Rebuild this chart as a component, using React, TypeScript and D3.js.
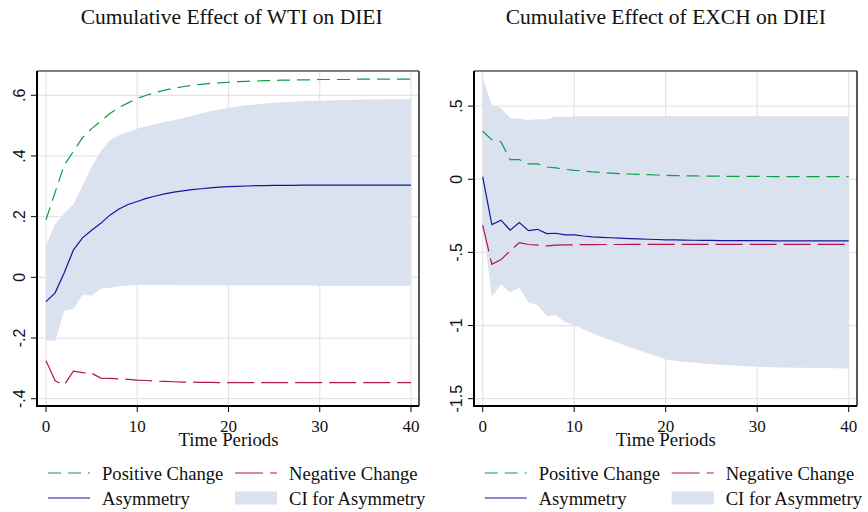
import React from "react";
import * as d3 from "d3";

// ---------- Data ----------
const periods = d3.range(0, 41);

const wtiPositive = [0.19, 0.28, 0.37, 0.415, 0.46, 0.49, 0.515, 0.54, 0.56, 0.575, 0.59, 0.6, 0.609, 0.617, 0.623, 0.628, 0.633, 0.636, 0.639, 0.641, 0.643, 0.645, 0.646, 0.647, 0.648, 0.649, 0.65, 0.65, 0.651, 0.651, 0.652, 0.652, 0.652, 0.652, 0.653, 0.653, 0.653, 0.653, 0.653, 0.653, 0.653];
const wtiNegative = [-0.275, -0.341, -0.355, -0.309, -0.314, -0.316, -0.332, -0.333, -0.335, -0.336, -0.339, -0.34, -0.342, -0.343, -0.344, -0.345, -0.345, -0.346, -0.346, -0.347, -0.347, -0.347, -0.347, -0.347, -0.347, -0.347, -0.347, -0.347, -0.347, -0.347, -0.347, -0.347, -0.347, -0.347, -0.347, -0.347, -0.347, -0.347, -0.347, -0.347, -0.347];
const wtiAsymmetry = [-0.08, -0.051, 0.015, 0.09, 0.13, 0.155, 0.178, 0.205, 0.225, 0.24, 0.25, 0.26, 0.268, 0.275, 0.281, 0.285, 0.289, 0.292, 0.295, 0.297, 0.299, 0.3, 0.301, 0.302, 0.302, 0.303, 0.303, 0.303, 0.304, 0.304, 0.304, 0.304, 0.304, 0.304, 0.304, 0.304, 0.304, 0.304, 0.304, 0.304, 0.304];
const wtiCiUpper = [0.106, 0.175, 0.21, 0.241, 0.3, 0.365, 0.415, 0.452, 0.468, 0.48, 0.49, 0.498, 0.505, 0.512, 0.518, 0.525, 0.532, 0.54, 0.547, 0.553, 0.558, 0.563, 0.567, 0.57, 0.573, 0.575, 0.577, 0.579, 0.58, 0.581, 0.582, 0.583, 0.584, 0.585, 0.585, 0.586, 0.586, 0.587, 0.587, 0.587, 0.587];
const wtiCiLower = [-0.209, -0.209, -0.111, -0.104, -0.058, -0.06, -0.037, -0.034, -0.029, -0.027, -0.025, -0.025, -0.025, -0.025, -0.025, -0.026, -0.026, -0.026, -0.026, -0.026, -0.027, -0.027, -0.027, -0.027, -0.027, -0.027, -0.027, -0.027, -0.027, -0.027, -0.028, -0.028, -0.028, -0.028, -0.028, -0.028, -0.028, -0.028, -0.028, -0.028, -0.028];

const exchPositive = [0.328, 0.271, 0.255, 0.134, 0.134, 0.105, 0.105, 0.084, 0.078, 0.068, 0.061, 0.056, 0.05, 0.046, 0.042, 0.039, 0.036, 0.033, 0.031, 0.029, 0.026, 0.025, 0.024, 0.023, 0.022, 0.021, 0.021, 0.02, 0.02, 0.019, 0.019, 0.019, 0.018, 0.018, 0.018, 0.018, 0.018, 0.018, 0.018, 0.018, 0.018];
const exchNegative = [-0.314, -0.581, -0.549, -0.49, -0.433, -0.446, -0.45, -0.455, -0.45, -0.449, -0.448, -0.447, -0.447, -0.446, -0.446, -0.446, -0.445, -0.445, -0.445, -0.445, -0.445, -0.445, -0.445, -0.445, -0.445, -0.445, -0.445, -0.445, -0.445, -0.445, -0.445, -0.445, -0.445, -0.445, -0.445, -0.445, -0.445, -0.445, -0.445, -0.445, -0.445];
const exchAsymmetry = [0.016, -0.31, -0.28, -0.348, -0.296, -0.351, -0.342, -0.371, -0.369, -0.38, -0.38, -0.388, -0.394, -0.397, -0.4, -0.403, -0.406, -0.408, -0.41, -0.412, -0.414, -0.415, -0.416, -0.417, -0.418, -0.418, -0.419, -0.419, -0.42, -0.42, -0.42, -0.42, -0.421, -0.421, -0.421, -0.421, -0.421, -0.421, -0.421, -0.421, -0.421];
const exchCiUpper = [0.688, 0.51, 0.487, 0.419, 0.414, 0.405, 0.41, 0.41, 0.428, 0.423, 0.43, 0.43, 0.43, 0.43, 0.43, 0.43, 0.43, 0.43, 0.43, 0.43, 0.43, 0.43, 0.43, 0.43, 0.43, 0.43, 0.43, 0.43, 0.43, 0.43, 0.43, 0.43, 0.43, 0.43, 0.43, 0.43, 0.43, 0.43, 0.43, 0.43, 0.43];
const exchCiLower = [-0.3, -0.804, -0.717, -0.774, -0.742, -0.842, -0.861, -0.934, -0.929, -0.975, -0.997, -1.026, -1.054, -1.078, -1.1, -1.123, -1.146, -1.168, -1.19, -1.21, -1.232, -1.24, -1.247, -1.253, -1.259, -1.263, -1.268, -1.272, -1.276, -1.279, -1.282, -1.284, -1.286, -1.287, -1.288, -1.289, -1.29, -1.291, -1.292, -1.292, -1.293];

const xTicks = [0, 10, 20, 30, 40];
const wtiYTicks = [-0.4, -0.2, 0, 0.2, 0.4, 0.6];
const exchYTicks = [-1.5, -1, -0.5, 0, 0.5];

const legendLabels = ["Positive Change", "Negative Change", "Asymmetry", "CI for Asymmetry"];
const xAxisTitle = "Time Periods";

// ---------- Styles ----------
const GREEN = "#0c9e45";
const RED = "#b3154d";
const BLUE = "#1414a0";
const BAND = "#d9e2ee";
const GRID = "#e4e4e4";
const SERIF = "'Liberation Serif', 'Times New Roman', serif";
const SANS = "'Liberation Sans', Arial, sans-serif";

const fmt = (v: number) => {
  if (v === 0) return "0";
  const s = String(Math.round(v * 100) / 100);
  return s.replace(/^0\./, ".").replace(/^-0\./, "-.");
};

type PanelProps = {
  title: string;
  titleX: number;
  frame: { left: number; right: number; top: number; bottom: number };
  xRange: [number, number];
  yDomain: [number, number];
  yTicks: number[];
  pos: number[];
  neg: number[];
  asym: number[];
  lo: number[];
  hi: number[];
};

function Panel(p: PanelProps) {
  const { frame } = p;
  const x = d3.scaleLinear().domain([0, 40]).range(p.xRange);
  const y = d3.scaleLinear().domain(p.yDomain).range([frame.bottom, frame.top]);
  const line = (vals: number[]) =>
    d3.line<number>().x((_, i) => x(periods[i])).y((d) => y(d))(vals) || "";
  const area =
    d3
      .area<number>()
      .x((i) => x(periods[i]))
      .y0((i) => y(p.lo[i]))
      .y1((i) => y(p.hi[i]))(periods.map((_, i) => i)) || "";

  const lx = p.xRange[0] + 2;
  const row1 = 473;
  const row2 = 498;

  return (
    <g>
      <text x={p.titleX} y={24} textAnchor="middle" fontFamily={SERIF} fontSize={21.5} fill="#111">
        {p.title}
      </text>
      {/* grid */}
      {p.yTicks.map((t) => (
        <line key={"gy" + t} x1={frame.left} x2={frame.right} y1={y(t)} y2={y(t)} stroke={GRID} strokeWidth={1.2} />
      ))}
      {xTicks.map((t) => (
        <line key={"gx" + t} x1={x(t)} x2={x(t)} y1={frame.top} y2={frame.bottom} stroke={GRID} strokeWidth={1.2} />
      ))}
      {/* CI band */}
      <path d={area} fill={BAND} stroke="none" />
      {/* lines */}
      <path d={line(p.neg)} fill="none" stroke={RED} strokeWidth={1.2} strokeDasharray="27,7" />
      <path d={line(p.pos)} fill="none" stroke={GREEN} strokeWidth={1.2} strokeDasharray="13,7" />
      <path d={line(p.asym)} fill="none" stroke={BLUE} strokeWidth={1.2} />
      {/* frame */}
      <line x1={frame.left} x2={frame.right} y1={frame.top} y2={frame.top} stroke="#555" strokeWidth={1.5} />
      <line x1={frame.right} x2={frame.right} y1={frame.top} y2={frame.bottom} stroke="#222" strokeWidth={1.5} />
      <line x1={frame.left} x2={frame.left} y1={frame.top} y2={frame.bottom + 1} stroke="#000" strokeWidth={2} />
      <line x1={frame.left - 1} x2={frame.right} y1={frame.bottom} y2={frame.bottom} stroke="#000" strokeWidth={2} />
      {/* y ticks */}
      {p.yTicks.map((t) => (
        <g key={"ty" + t}>
          <line x1={frame.left - 6} x2={frame.left} y1={y(t)} y2={y(t)} stroke="#000" strokeWidth={1} />
          <text
            transform={`translate(${frame.left - 12},${y(t)}) rotate(-90)`}
            textAnchor="middle"
            fontFamily={SANS}
            fontSize={16}
            fill="#111"
          >
            {fmt(t)}
          </text>
        </g>
      ))}
      {/* x ticks */}
      {xTicks.map((t) => (
        <g key={"tx" + t}>
          <line x1={x(t)} x2={x(t)} y1={frame.bottom} y2={frame.bottom + 6} stroke="#000" strokeWidth={1} />
          <text x={x(t)} y={431.5} textAnchor="middle" fontFamily={SERIF} fontSize={17} fill="#111">
            {t}
          </text>
        </g>
      ))}
      <text x={(p.xRange[0] + p.xRange[1]) / 2} y={446} textAnchor="middle" fontFamily={SERIF} fontSize={18.8} fill="#111">
        {xAxisTitle}
      </text>
      {/* legend */}
      <line x1={lx} x2={lx + 42} y1={row1} y2={row1} stroke={GREEN} strokeWidth={1.2} strokeDasharray="13,7" />
      <text x={lx + 54} y={row1 + 6.5} fontFamily={SERIF} fontSize={18.6} fill="#111">{legendLabels[0]}</text>
      <line x1={lx + 187} x2={lx + 229} y1={row1} y2={row1} stroke={RED} strokeWidth={1.2} strokeDasharray="28,7" />
      <text x={lx + 241} y={row1 + 6.5} fontFamily={SERIF} fontSize={18.6} fill="#111">{legendLabels[1]}</text>
      <line x1={lx} x2={lx + 42} y1={row2} y2={row2} stroke={BLUE} strokeWidth={1.2} />
      <text x={lx + 54} y={row2 + 6.5} fontFamily={SERIF} fontSize={18.6} fill="#111">{legendLabels[2]}</text>
      <rect x={lx + 187} y={row2 - 6.5} width={42} height={13} fill={BAND} />
      <text x={lx + 241} y={row2 + 6.5} fontFamily={SERIF} fontSize={18.6} fill="#111">{legendLabels[3]}</text>
    </g>
  );
}

export default function App() {
  return (
    <svg width={868} height={512} style={{ position: "absolute", left: 0, top: 0, background: "#fff" }}>
      <rect width={868} height={512} fill="#fff" />
      <Panel
        title="Cumulative Effect of WTI on DIEI"
        titleX={231.7}
        frame={{ left: 37, right: 419, top: 71, bottom: 406 }}
        xRange={[46, 411]}
        yDomain={[-0.424, 0.68]}
        yTicks={wtiYTicks}
        pos={wtiPositive}
        neg={wtiNegative}
        asym={wtiAsymmetry}
        lo={wtiCiLower}
        hi={wtiCiUpper}
      />
      <Panel
        title="Cumulative Effect of EXCH on DIEI"
        titleX={665.8}
        frame={{ left: 474, right: 857, top: 71, bottom: 406 }}
        xRange={[482.7, 848.7]}
        yDomain={[-1.55, 0.74]}
        yTicks={exchYTicks}
        pos={exchPositive}
        neg={exchNegative}
        asym={exchAsymmetry}
        lo={exchCiLower}
        hi={exchCiUpper}
      />
    </svg>
  );
}
